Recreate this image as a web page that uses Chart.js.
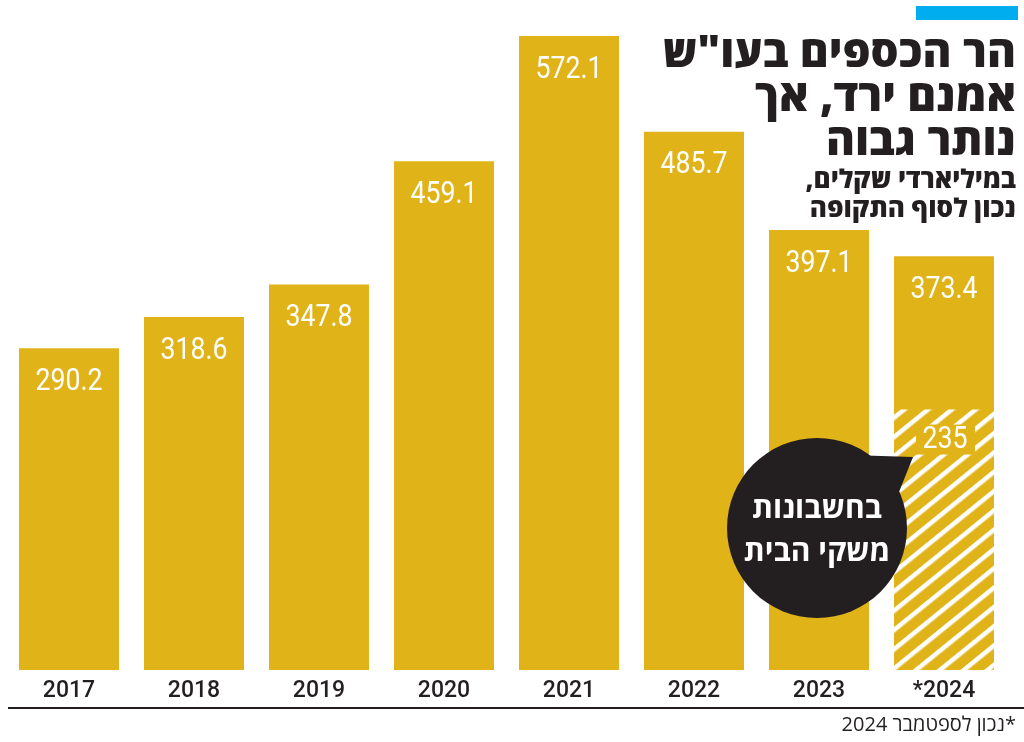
<!DOCTYPE html>
<html lang="he">
<head>
  <meta charset="UTF-8" />
  <title>הר הכספים בעו"ש</title>
  <script src="https://cdn.jsdelivr.net/npm/chart.js"></script>
  <style>
    body {
      margin: 0;
      background: #fff;
      font-family: 'Open Sans', 'Liberation Sans', sans-serif;
      color: #231f20;
    }
    .wrap {
      position: relative;
      width: 1024px;
      height: 742px;
      overflow: hidden;
    }
    .chartBox {
      position: absolute;
      left: 0; top: 0;
      width: 1024px; height: 742px;
    }
    .topBar {
      position: absolute;
      left: 916px; top: 6px;
      width: 102px; height: 14px;
      background: #00aeef;
    }
    .title {
      position: absolute;
      right: 8px; top: 28px;
      direction: rtl;
      text-align: right;
      font-size: 44px;
      line-height: 44px;
      font-weight: 800;
    }
    .subtitle {
      position: absolute;
      right: 8px; top: 164px;
      direction: rtl;
      text-align: right;
      font-size: 26px;
      line-height: 29px;
      font-weight: 800;
    }
    .bubble {
      position: absolute;
      left: 727px; top: 438px;
      width: 180px; height: 180px;
      border-radius: 50%;
      background: #231f20;
      color: #fff;
      direction: rtl;
      text-align: center;
      font-size: 30px;
      font-weight: 700;
      line-height: 43px;
      box-sizing: border-box;
      padding-top: 47px;
    }
    .tail {
      position: absolute;
      left: 840px; top: 450px;
      width: 80px; height: 50px;
      background: #231f20;
      clip-path: polygon(10px 5px, 73px 7px, 57px 47px, 10px 47px);
    }
    .axisLine {
      position: absolute;
      left: 8px; top: 707px;
      width: 1016px; height: 2px;
      background: #231f20;
    }
    .note {
      position: absolute;
      right: 8px; top: 711px;
      direction: rtl;
      font-size: 20px;
      line-height: 26px;
    }
  </style>
</head>
<body>
<div class="wrap">
  <div class="chartBox"><canvas id="savings"></canvas></div>
  <div class="topBar"></div>
  <div class="title">הר הכספים בעו"ש<br>אמנם ירד, אך<br>נותר גבוה</div>
  <div class="subtitle">במיליארדי שקלים,<br>נכון לסוף התקופה</div>
  <div class="tail"></div>
  <div class="bubble">בחשבונות<br>משקי הבית</div>
  <div class="axisLine"></div>
  <div class="note">*נכון לספטמבר 2024</div>
</div>

<script>
// data (billions of shekels, end of period)
const years = ['2017', '2018', '2019', '2020', '2021', '2022', '2023', '*2024'];
const totals = [290.2, 318.6, 347.8, 459.1, 572.1, 485.7, 397.1, 373.4];
const households = [null, null, null, null, null, null, null, 235];

const GOLD = '#e0b418';

// white diagonal stripes for the household part
function makeHatch() {
  const c = document.createElement('canvas');
  c.width = 15; c.height = 15;
  const g = c.getContext('2d');
  g.fillStyle = '#ffffff';
  g.fillRect(0, 0, 15, 4.5);
  const p = g.createPattern(c, 'repeat');
  p.setTransform(new DOMMatrix().rotate(-39));
  return p;
}

// value labels inside the bars
const valueLabels = {
  id: 'valueLabels',
  afterDatasetsDraw(chart) {
    const ctx = chart.ctx;
    ctx.save();
    ctx.fillStyle = '#fff';
    ctx.textAlign = 'center';
    ctx.textBaseline = 'middle';
    ctx.font = '31px Roboto';

    const totMeta = chart.getDatasetMeta(1);
    totMeta.data.forEach((bar, i) => {
      ctx.save();
      ctx.translate(bar.x, bar.y + 34);
      ctx.scale(0.86, 1);
      ctx.fillText(totals[i].toFixed(1), 0, 0);
      ctx.restore();
    });

    const hhMeta = chart.getDatasetMeta(0);
    hhMeta.data.forEach((bar, i) => {
      if (households[i] == null) return;
      ctx.fillStyle = GOLD;
      ctx.fillRect(bar.x - 28, bar.y + 15, 59, 30);
      ctx.fillStyle = '#fff';
      ctx.save();
      ctx.translate(bar.x + 1, bar.y + 31);
      ctx.scale(0.86, 1);
      ctx.fillText(String(households[i]), 0, 0);
      ctx.restore();
    });
    ctx.restore();
  }
};

new Chart(document.getElementById('savings'), {
  type: 'bar',
  data: {
    labels: years,
    datasets: [
      {
        label: 'households',
        data: households,
        backgroundColor: makeHatch(),
        grouped: false,
        categoryPercentage: 1,
        barPercentage: 0.8
      },
      {
        label: 'total',
        data: totals,
        backgroundColor: GOLD,
        grouped: false,
        categoryPercentage: 1,
        barPercentage: 0.8
      }
    ]
  },
  options: {
    responsive: true,
    maintainAspectRatio: false,
    animation: false,
    layout: { padding: { left: 6.5, right: 17.5, top: 5, bottom: 37 } },
    plugins: {
      legend: { display: false },
      tooltip: { enabled: false }
    },
    scales: {
      x: {
        grid: { display: false },
        border: { display: false },
        ticks: {
          color: '#231f20',
          padding: 2,
          font: { family: 'Roboto', size: 23, weight: '500', lineHeight: 1 }
        }
      },
      y: {
        display: false,
        min: 0,
        max: 600
      }
    }
  },
  plugins: [valueLabels]
});
</script>
</body>
</html>
